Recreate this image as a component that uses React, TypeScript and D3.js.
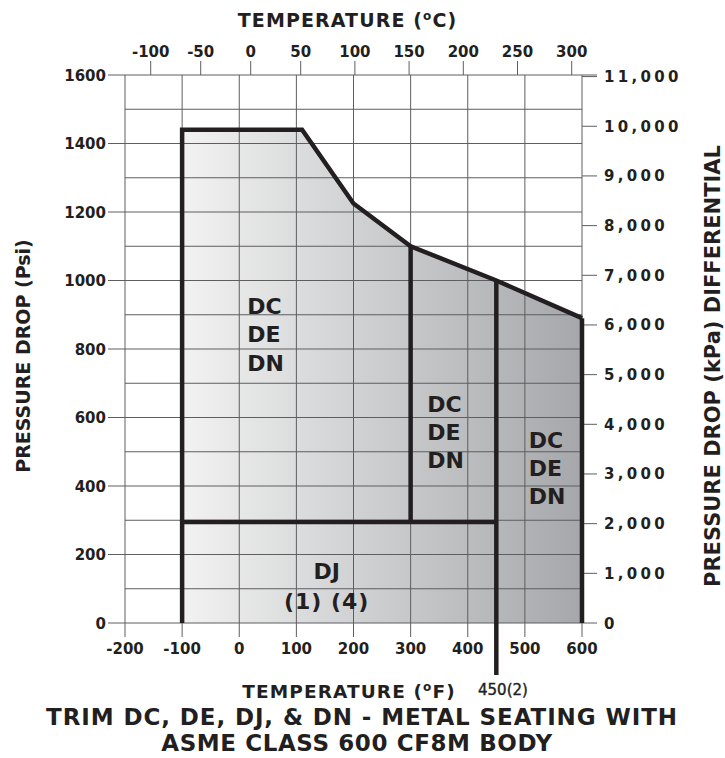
import React from 'react';
import * as d3 from 'd3';

// chart values
const fTicks = [-200, -100, 0, 100, 200, 300, 400, 500, 600];
const cTicks = [-100, -50, 0, 50, 100, 150, 200, 250, 300];
const psiTicks = [0, 200, 400, 600, 800, 1000, 1200, 1400, 1600];
const kpaTicks = [0, 1000, 2000, 3000, 4000, 5000, 6000, 7000, 8000, 9000, 10000, 11000];

// outline of the allowed envelope (temp degF, pressure psi)
const envelopeF = [-100, -100, 110, 200, 300, 450, 600, 600];
const envelopePsi = [0, 1440, 1440, 1225, 1100, 1000, 890, 0];

// inner limits
const djLimitPsi = 295;
const splitF = [300, 450];
const splitTopPsi = [1100, 1000];
const leaderPsi = -152;

// region labels: [degF, psi, text]
const regionLabels: [number, number, string[]][] = [
  [14, 902, ['DC', 'DE', 'DN']],
  [329, 617, ['DC', 'DE', 'DN']],
  [507, 512, ['DC', 'DE', 'DN']],
];
const djLabel = ['DJ', '(1) (4)'];
const djPos = [153, 128, 40];

const PSI_TO_KPA = 6.895;
const ink = '#231f20';
const font = "'DejaVu Sans', sans-serif";

const x = d3.scaleLinear().domain([-200, 600]).range([125, 582]);
// the celsius scale is drawn a little uneven in the original
const xC = d3.scaleLinear().domain([-100, 50, 300]).range([150.7, 300.7, 571.7]);
const y = d3.scaleLinear().domain([0, 1600]).range([623, 75]);
const yK = d3.scaleLinear().domain([0, 1600 * PSI_TO_KPA]).range([623, 75]);
const fmtK = d3.format(',');

const App: React.FC = () => {
  const gridF = d3.range(-200, 601, 100);
  const gridPsi = d3.range(0, 1601, 100);
  const pts: [number, number][] = envelopeF.map((f, i) => [f, envelopePsi[i]]);
  const line = d3.line<[number, number]>().x(d => x(d[0])).y(d => y(d[1]));
  const area = line(pts) + 'Z';
  const outline = line(pts.slice(0, 7)) as string;

  return (
    <div style={{ position: 'absolute', left: 0, top: 0 }}>
      <svg width={725} height={758} style={{ display: 'block', background: '#fff' }} fontFamily={font} fill={ink}>
        <defs>
          <linearGradient id="shade" gradientUnits="userSpaceOnUse" x1={x(-100)} x2={x(600)} y1={0} y2={0}>
            <stop offset="0" stopColor="#f2f2f2" />
            <stop offset="1" stopColor="#a5a7aa" />
          </linearGradient>
        </defs>

        <path d={area} fill="url(#shade)" stroke="none" />

        {/* grid */}
        <g stroke="#5e5e60" strokeWidth={1}>
          {gridF.map(f => <line key={'v' + f} x1={x(f)} x2={x(f)} y1={y(0)} y2={y(1600)} />)}
          {gridPsi.map(p => <line key={'h' + p} x1={x(-200)} x2={x(600)} y1={y(p)} y2={y(p)} />)}
          {psiTicks.map(p => <line key={'lt' + p} x1={x(-200) - 17} x2={x(-200)} y1={y(p)} y2={y(p)} />)}
          {kpaTicks.map(k => <line key={'rt' + k} x1={x(600)} x2={x(600) + 15} y1={yK(k)} y2={yK(k)} />)}
          {fTicks.map(f => <line key={'bt' + f} x1={x(f)} x2={x(f)} y1={y(0)} y2={y(0) + 14} />)}
          {cTicks.map(c => <line key={'tt' + c} x1={xC(c)} x2={xC(c)} y1={y(1600)} y2={y(1600) - 14} />)}
          <line x1={x(600)} x2={x(600) + 15} y1={y(1600)} y2={y(1600)} />
        </g>

        {/* envelope */}
        <g stroke={ink} strokeWidth={4.5} fill="none" strokeLinejoin="miter">
          <path d={outline} />
          <line x1={x(600)} x2={x(600)} y1={y(890)} y2={y(0)} />
          <line x1={x(-100)} x2={x(450)} y1={y(djLimitPsi)} y2={y(djLimitPsi)} />
          <line x1={x(splitF[0])} x2={x(splitF[0])} y1={y(splitTopPsi[0])} y2={y(djLimitPsi)} />
          <line x1={x(splitF[1])} x2={x(splitF[1])} y1={y(splitTopPsi[1])} y2={y(leaderPsi)} />
        </g>

        {/* region labels */}
        <g fontSize={22} fontWeight="bold">
          {regionLabels.map(([f, p, lines], i) => (
            <text key={'r' + i} x={x(f)} y={y(p)}>
              {lines.map((t, j) => <tspan key={j} x={x(f)} dy={j === 0 ? 0 : 28.3}>{t}</tspan>)}
            </text>
          ))}
          <text x={x(djPos[0])} y={y(djPos[1])} textAnchor="middle">{djLabel[0]}</text>
          <text x={x(djPos[0])} y={y(djPos[2])} textAnchor="middle" letterSpacing={1}>{djLabel[1]}</text>
        </g>

        {/* tick labels */}
        <g fontSize={15} fontWeight="bold">
          {psiTicks.map(p => <text key={'lp' + p} x={x(-200) - 19} y={y(p) + 5.5} textAnchor="end">{p}</text>)}
          {kpaTicks.map(k => <text key={'rk' + k} x={x(600) + 22} y={yK(k) + 5.5} letterSpacing={3.3}>{fmtK(k)}</text>)}
          {fTicks.map(f => <text key={'bf' + f} x={x(f)} y={654} textAnchor="middle">{f}</text>)}
          {cTicks.map(c => <text key={'tc' + c} x={xC(c)} y={56.7} textAnchor="middle">{c}</text>)}
        </g>

        {/* axis titles */}
        <g fontWeight="bold">
          <text x={347.5} y={27} fontSize={19} textAnchor="middle" letterSpacing={1.1}>
            TEMPERATURE (<tspan fontSize={12} dy={-7}>o</tspan><tspan dy={7}>C)</tspan>
          </text>
          <text x={349} y={698} fontSize={18.5} textAnchor="middle" letterSpacing={1.1}>
            TEMPERATURE (<tspan fontSize={12} dy={-7}>o</tspan><tspan dy={7}>F)</tspan>
          </text>
          <text x={478} y={695} fontSize={15} fontWeight="normal" stroke={ink} strokeWidth={0.4}>450(2)</text>
          <text transform="translate(30,356) rotate(-90)" fontSize={19} textAnchor="middle">PRESSURE DROP (Psi)</text>
          <text transform="translate(720,366) rotate(-90)" fontSize={21} textAnchor="middle">PRESSURE DROP (kPa) DIFFERENTIAL</text>
          <text x={362} y={724.5} fontSize={23} textAnchor="middle" letterSpacing={0.9}>TRIM DC, DE, DJ, &amp; DN - METAL SEATING WITH</text>
          <text x={357} y={751} fontSize={23} textAnchor="middle" letterSpacing={0.6}>ASME CLASS 600 CF8M BODY</text>
        </g>
      </svg>
    </div>
  );
};

export default App;
